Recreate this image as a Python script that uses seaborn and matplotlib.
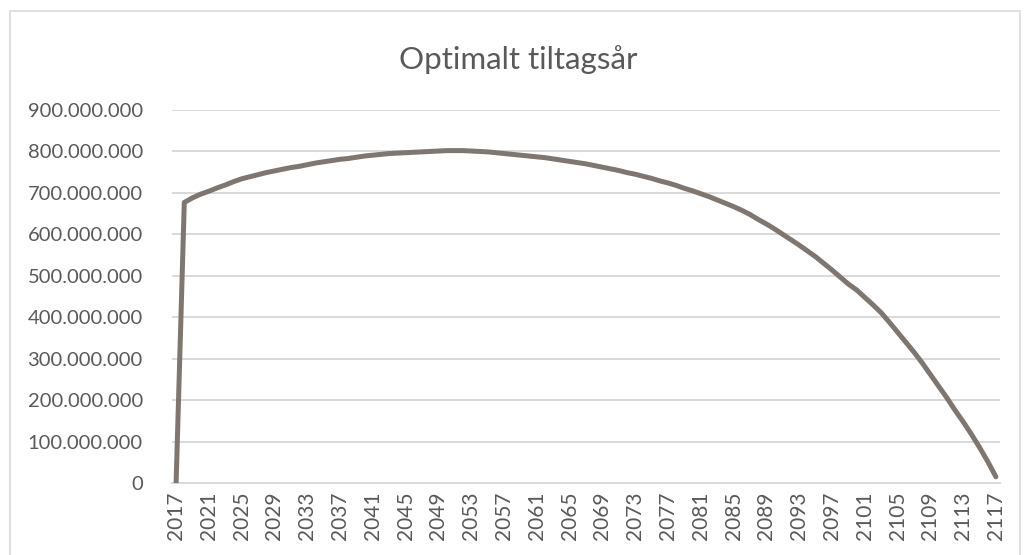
import numpy as np
import pandas as pd
import matplotlib
matplotlib.use('Agg')
import matplotlib.pyplot as plt
from matplotlib.patches import Rectangle
from matplotlib.ticker import FuncFormatter
import seaborn as sns

TITLE = 'Optimalt tiltagsår'

# år 2017 - 2117
YEARS = list(range(2017, 2118))

# værdi i mio.
VALUES_MIO = [
    0, 677, 688, 697, 704, 712, 719, 727, 734, 739,
    744, 749, 753, 757, 761, 764, 768, 772, 775, 778,
    781, 783, 786, 789, 791, 793, 795, 796, 797, 798,
    799, 800, 801, 802, 802, 802, 801, 800, 799, 797,
    795, 793, 791, 789, 787, 785, 782, 779, 776, 773,
    770, 766, 762, 758, 754, 749, 745, 740, 735, 729,
    724, 718, 711, 705, 698, 691, 683, 675, 667, 658,
    648, 636, 625, 613, 600, 587, 574, 560, 546, 530,
    514, 497, 480, 466, 448, 430, 411, 388, 364, 340,
    316, 290, 262, 234, 206, 176, 148, 118, 86, 52,
    15,
]

Y_TICKS = list(range(0, 900_000_001, 100_000_000))
X_TICKS = YEARS[::4]

LINE_COLOR = '#7f776f'
TEXT_COLOR = '#595959'
GRID_COLOR = '#d9d9d9'


def dot_thousands(v, pos=None):
    return f'{v:,.0f}'.replace(',', '.')


def createLinePlot(df):
    sns.set_theme(style='white')
    plt.rcParams['font.family'] = ['Lato', 'DejaVu Sans']

    fig = plt.figure(figsize=(10.36, 5.55), dpi=100)
    ax = fig.add_axes([172 / 1036, 1 - 483 / 555, 828 / 1036, 373 / 555])

    sns.lineplot(data=df, x='year', y='value', ax=ax, color=LINE_COLOR,
                 linewidth=3.6, zorder=3)

    ax.set_xlim(YEARS[0] - 0.5, YEARS[-1] + 0.5)
    ax.set_ylim(0, Y_TICKS[-1])
    ax.set_yticks(Y_TICKS)
    ax.set_xticks(X_TICKS)
    ax.set_xticklabels([str(y) for y in X_TICKS], rotation=90)
    ax.yaxis.set_major_formatter(FuncFormatter(dot_thousands))

    ax.grid(axis='y', color=GRID_COLOR, linewidth=1.4, zorder=0)
    ax.grid(axis='x', visible=False)
    for side in ['left', 'right', 'top']:
        ax.spines[side].set_visible(False)
    ax.spines['bottom'].set_color(GRID_COLOR)
    ax.spines['bottom'].set_linewidth(1.4)

    ax.tick_params(axis='y', length=0, pad=21, labelsize=14.5, labelcolor=TEXT_COLOR)
    ax.tick_params(axis='x', length=0, pad=6, labelsize=15, labelcolor=TEXT_COLOR)
    ax.set_xlabel('')
    ax.set_ylabel('')

    fig.text(0.5, 1 - 60 / 555, TITLE, ha='center', va='center',
             fontsize=22.5, color=TEXT_COLOR)

    # diagramramme
    fig.patches.append(Rectangle((10 / 1036, -0.05), 1010 / 1036, 1.05 - 11 / 555,
                                 transform=fig.transFigure, fill=False,
                                 edgecolor=GRID_COLOR, linewidth=1.2))

    fig.savefig('out.png', dpi=100, facecolor='white')


if __name__ == '__main__':
    df = pd.DataFrame({'year': YEARS,
                       'value': np.array(VALUES_MIO, dtype=float) * 1_000_000})
    createLinePlot(df)
